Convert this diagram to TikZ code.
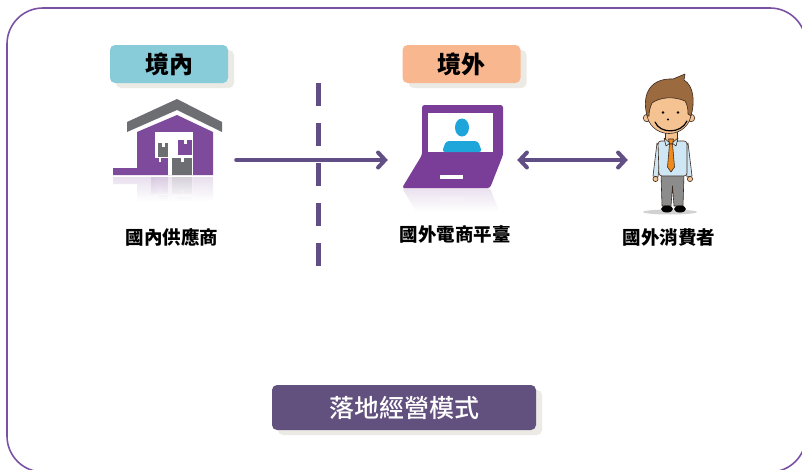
\documentclass[tikz,border=0pt]{standalone}
\usepackage{fontspec}
\newfontfamily\cjk{Noto Sans CJK TC}
\newfontfamily\cjkmed{Noto Sans CJK TC Medium}
\usetikzlibrary{arrows.meta,shadows,fadings}

\definecolor{frame}{HTML}{7B52A3}
\definecolor{ink}{HTML}{604E85}
\definecolor{tagblue}{HTML}{88CBD9}
\definecolor{tagorange}{HTML}{F9B78F}
\definecolor{modebox}{HTML}{62507F}
\definecolor{shade}{HTML}{EBEAE5}
\definecolor{house}{HTML}{7D4A9C}
\definecolor{roof}{HTML}{6D6E72}
\definecolor{laptop}{HTML}{7B3E98}
\definecolor{avatar}{HTML}{1EA6DB}
\definecolor{skin}{HTML}{F5C392}
\definecolor{hair}{HTML}{9C6A3F}
\definecolor{shirt}{HTML}{CFE7F4}
\definecolor{tie}{HTML}{EE8A1E}
\definecolor{pants}{HTML}{8C8C8C}
\definecolor{outline}{HTML}{3A2A20}

\tikzset{
  tag/.style={rounded corners=5pt, minimum width=118pt, minimum height=38pt,
    inner sep=0pt, font=\cjk\bfseries\fontsize{24}{24}\selectfont, text=black,
    drop shadow={shadow xshift=6pt, shadow yshift=-5pt, fill=shade, opacity=1}},
  modetag/.style={tag, fill=modebox, minimum width=264pt, minimum height=45pt,
    text=white, font=\cjkmed\fontsize{25}{25}\selectfont},
  caption/.style={font=\cjk\bfseries\fontsize{18.5}{18.5}\selectfont, text=black, inner sep=0pt},
  slot/.style={minimum height=60pt, inner sep=0pt},
  conn/.style={draw=ink, line width=4pt, line cap=round,
    arrows={-Straight Barb[length=7pt,width=15pt,line cap=round]}},
  conn2/.style={conn, arrows={Straight Barb[length=7pt,width=15pt,line cap=round]-Straight Barb[length=7pt,width=15pt,line cap=round]}},
  divider/.style={draw=ink, line width=5pt, dash pattern=on 23pt off 17pt},
  fig/.style={draw=outline, line width=0.6pt, line join=round},
}

\begin{document}
\begin{tikzpicture}[x=1pt,y=-1pt]
\useasboundingbox (0,0) rectangle (802,469);
\clip (0,0) rectangle (802,469);

% outer frame
\draw[frame, line width=1.6pt, rounded corners=36pt] (7,8) rectangle (806,472);

% headings
\node[tag, fill=tagblue] (inside) at (169,64) {境內};
\node[tag, fill=tagorange] (outside) at (461.5,64) {境外};

% border between domestic and overseas
\coordinate (divtop) at (318,83);
\coordinate (divbot) at (318,266);
\draw[divider] (divtop) -- (divbot);

% ---------- warehouse ----------
\newcommand{\warehouse}{%
  \fill[roof] (127,122) -- (177,99) -- (222,122) -- (222,132) -- (177,110) -- (127,132) -- cycle;
  \fill[house] (113,168) -- (137,168) -- (137,132) -- (177,115) -- (213,132) -- (213,175) -- (113,175) -- cycle;
  \fill[white] (155,132) rectangle (193,175);
  \fill[roof] (158,143) rectangle (168,157);
  \fill[house] (178,140) rectangle (192,155);
  \fill[house] (151,158) rectangle (168,175);
  \fill[roof] (172,158) rectangle (192,175);
  \fill[white] (162,143) rectangle (164.5,147);
  \fill[white] (184,140) rectangle (186.5,144);
  \fill[white] (158.5,158) rectangle (161,162);
  \fill[white] (181,158) rectangle (183.5,162);
}
\warehouse
\begin{scope}
  \clip (100,176.5) rectangle (240,200);
  \begin{scope}[shift={(0,352)}, yscale=-1, opacity=0.18]
    \warehouse
  \end{scope}
\end{scope}
\fill[white, path fading=north] (100,176) rectangle (240,201);

% ---------- laptop ----------
\newcommand{\laptop}{%
  \fill[laptop, rounded corners=2.5pt] (422,105) -- (503,105) -- (503,155) -- (490,188) -- (402,188) -- (422,155) -- cycle;
  \fill[white] (428,113) rectangle (493,152);
  \fill[avatar] (462,127.5) ellipse (7 and 9);
  \fill[avatar, rounded corners=3pt] (442,152) -- (446,141) -- (478,141) -- (482,152) -- cycle;
  \fill[white] (440,175) rectangle (463,179);
}
\laptop
\begin{scope}
  \clip (395,188.5) rectangle (515,210);
  \begin{scope}[shift={(0,376)}, yscale=-1, opacity=0.16]
    \laptop
  \end{scope}
\end{scope}
\fill[white, path fading=north] (395,188) rectangle (515,211);

% ---------- consumer ----------
\fill[black, opacity=0.18] (670,212) ellipse (27 and 2.5);
% legs and shoes
\filldraw[fig, fill=pants] (661,174) -- (684,174) -- (683,206) -- (674,206) -- (672.5,186) -- (671,206) -- (662,206) -- cycle;
\fill[black] (667,209) ellipse (6 and 3.5);
\fill[black] (680,209) ellipse (6 and 3.5);
% arms
\filldraw[fig, fill=shirt] (657,143) -- (653,176) -- (658,177) -- (661,150) -- cycle;
\filldraw[fig, fill=shirt] (688,143) -- (692,176) -- (687,177) -- (684,150) -- cycle;
\filldraw[fig, fill=skin] (655.5,179) circle (2.6);
\filldraw[fig, fill=skin] (690,179) circle (2.6);
% torso
\filldraw[fig, fill=shirt, rounded corners=3pt] (658,141) -- (687,141) -- (687,176) -- (659,176) -- cycle;
% neck and collar
\filldraw[fig, fill=skin] (665,131) -- (677,131) -- (677,141) -- (665,141) -- cycle;
\filldraw[fig, fill=shirt] (664,138) -- (670,143) -- (666,146) -- cycle;
\filldraw[fig, fill=shirt] (678,138) -- (672,143) -- (676,146) -- cycle;
% tie
\filldraw[fig, fill=tie] (668.5,139) -- (673.5,139) -- (672.5,144) -- (669.5,144) -- cycle;
\filldraw[fig, fill=tie] (669.5,144) -- (672.5,144) -- (674.5,167) -- (671,172) -- (667.5,167) -- cycle;
% ears and face
\filldraw[fig, fill=skin] (647,118) circle (3.8);
\filldraw[fig, fill=skin] (691,118) circle (3.8);
\filldraw[fig, fill=skin] (669,113) ellipse (22 and 20.5);
% hair
\filldraw[fig, fill=hair] (647,116) .. controls (641,92) and (652,78) .. (673,79)
  -- (685,74) -- (684,80) .. controls (694,86) and (695,102) .. (691,116)
  -- (688,114) .. controls (688,108) and (687,104) .. (685,101)
  .. controls (674,96) and (660,97) .. (652,103)
  .. controls (650,107) and (649,112) .. (649,116) -- cycle;
% face details
\fill[black] (663,112.5) circle (1.4);
\fill[black] (678,112.5) circle (1.4);
\fill[black] (668,119.5) circle (1.1);
\draw[black, line width=1.2pt, line cap=round] (655,122) .. controls (660,134) and (681,134) .. (687,121);

% placeholders carrying the connectors
\node[slot, minimum width=124pt] (supplier) at (174,160) {};
\node[slot, minimum width=129pt] (platform) at (452.5,160) {};
\node[slot, minimum width=84pt] (consumer) at (670,160) {};

\draw[conn] (supplier.east) -- (platform.west);
\draw[conn2] (platform.east) -- (consumer.west);

% captions
\node[caption] (supplierlbl) at (172,237) {國內供應商};
\node[caption] (platformlbl) at (455,234) {國外電商平臺};
\node[caption] (consumerlbl) at (669,238) {國外消費者};

% model name
\node[modetag] (model) at (404,407.5) {落地經營模式};
\end{tikzpicture}
\end{document}
